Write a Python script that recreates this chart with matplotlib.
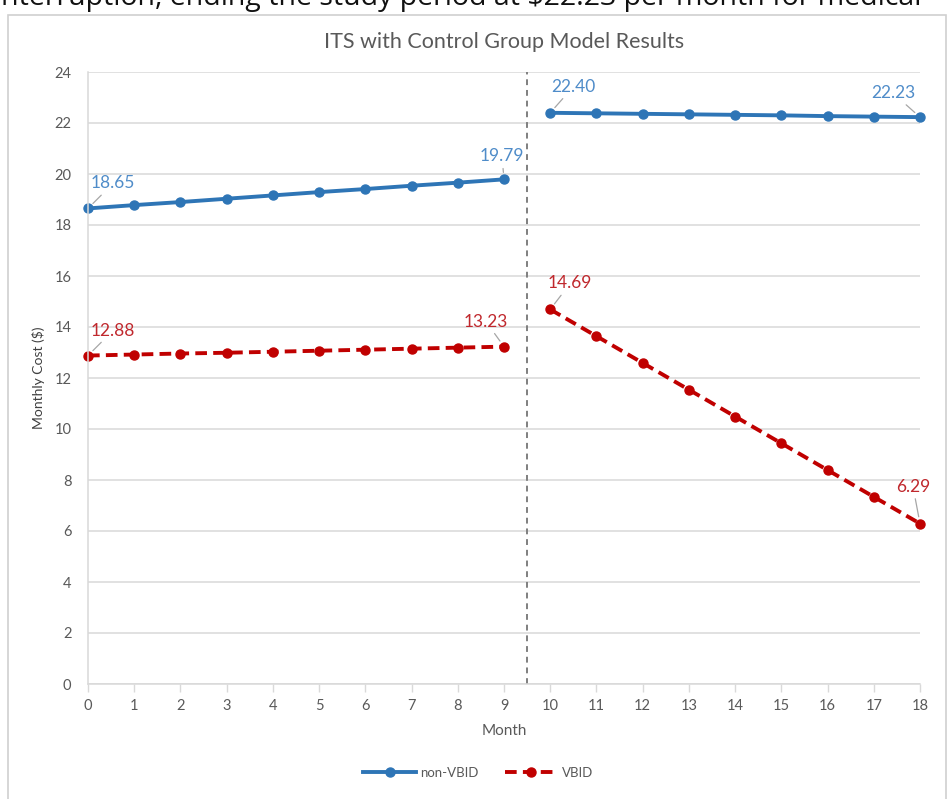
import matplotlib.pyplot as plt
from matplotlib.patches import Rectangle

months = list(range(19))
pre = months[:10]
post = months[10:]

non_vbid_pre = [18.65, 18.78, 18.90, 19.03, 19.16, 19.29, 19.41, 19.54, 19.66, 19.79]
non_vbid_post = [22.40, 22.38, 22.36, 22.34, 22.32, 22.30, 22.27, 22.25, 22.23]
vbid_pre = [12.88, 12.92, 12.96, 12.99, 13.03, 13.07, 13.11, 13.15, 13.19, 13.23]
vbid_post = [14.69, 13.64, 12.59, 11.54, 10.49, 9.44, 8.39, 7.34, 6.29]

caption = "interruption, ending the study period at $22.23 per month for medical"

BLUE = "#2E75B6"
BLUE_TXT = "#4F8CC9"
RED = "#C00000"
RED_TXT = "#C0282D"
GRID = "#D9D9D9"
TXT = "#595959"

plt.rcParams['font.family'] = ['Lato', 'DejaVu Sans']

fig = plt.figure(figsize=(9.49, 7.99), dpi=100)
# running text of the page above the chart, sliced by the page edge
fig.text(-0.006, 1 - 5 / 799, caption, fontsize=20.5, family='Open Sans',
         color='#111111', va='baseline', ha='left')
fig.patches.append(Rectangle((8 / 949, -0.01), 938 / 949, 1 - 15 / 799 + 0.01,
                             transform=fig.transFigure, fill=False,
                             edgecolor='#D0D0D0', linewidth=1.2))

ax = fig.add_axes([88 / 949, 1 - 684 / 799, 832 / 949, 612 / 799])

ls_red = (0, (3, 1.6))
ax.plot(pre, non_vbid_pre, color=BLUE, lw=2.8, marker='o', ms=6.5, label='non-VBID', clip_on=False)
ax.plot(post, non_vbid_post, color=BLUE, lw=2.8, marker='o', ms=6.5, clip_on=False)
ax.plot(pre, vbid_pre, color=RED, lw=2.8, ls=ls_red, marker='o', ms=6.5, label='VBID', clip_on=False)
ax.plot(post, vbid_post, color=RED, lw=2.8, ls=ls_red, marker='o', ms=6.5, clip_on=False)

ax.axvline(9.5, color='#7F7F7F', lw=1.4, ls=(0, (3, 2.5)))

# value callouts with short leader lines
callouts = [
    (0, non_vbid_pre[0], (25, 25), BLUE_TXT),
    (9, non_vbid_pre[-1], (-2, 23), BLUE_TXT),
    (10, non_vbid_post[0], (23, 26), BLUE_TXT),
    (18, non_vbid_post[-1], (-27, 24), BLUE_TXT),
    (0, vbid_pre[0], (25, 25), RED_TXT),
    (9, vbid_pre[-1], (-18, 25), RED_TXT),
    (10, vbid_post[0], (20, 26), RED_TXT),
    (18, vbid_post[-1], (-7, 37), RED_TXT),
]
for x, y, off, c in callouts:
    ax.annotate(f"{y:.2f}", (x, y), xytext=off, textcoords='offset pixels',
                ha='center', va='center', fontsize=12.5, color=c,
                arrowprops=dict(arrowstyle='-', color='#A6A6A6', lw=0.9,
                                shrinkA=1, shrinkB=5))

ax.set_xlim(0, 18)
ax.set_ylim(0, 24)
ax.set_xticks(months)
ax.set_yticks(range(0, 25, 2))
ax.grid(axis='y', color=GRID, lw=1.1)
ax.set_axisbelow(True)
for s in ['top', 'right']:
    ax.spines[s].set_visible(False)
ax.spines['left'].set_color(GRID)
ax.spines['bottom'].set_color(GRID)
ax.spines['left'].set_linewidth(1.1)
ax.spines['bottom'].set_linewidth(1.1)
ax.tick_params(axis='y', length=0, pad=12, labelsize=10.5, labelcolor=TXT)
ax.tick_params(axis='x', length=6, width=1, color=GRID, pad=5, labelsize=10.5, labelcolor=TXT)

ax.set_xlabel("Month", fontsize=11, color=TXT, labelpad=8)
ax.set_ylabel("Monthly Cost ($)", fontsize=10, color='#404040', labelpad=7)
ax.set_title("ITS with Control Group Model Results", fontsize=15.5, color=TXT, pad=17)

fig.legend(loc='center', bbox_to_anchor=(478 / 949, 1 - 773 / 799), ncol=2,
           frameon=False, fontsize=9.5, labelcolor=TXT, handlelength=4,
           columnspacing=2, handletextpad=0.3)

fig.savefig("out.png", dpi=100)
